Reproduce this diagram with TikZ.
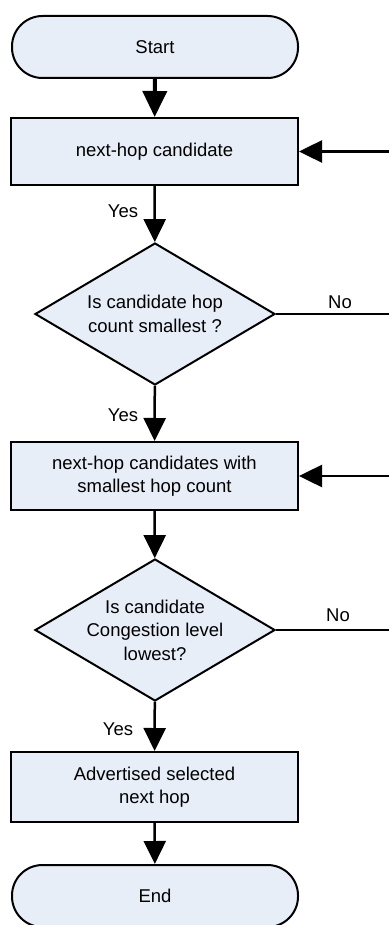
\documentclass[tikz,border=0pt]{standalone}
\usepackage{fontspec}
\setmainfont{Liberation Sans}
\usetikzlibrary{shapes.geometric,arrows.meta}
\definecolor{boxfill}{RGB}{232,238,247}
\begin{document}
\begin{tikzpicture}[x=1pt,y=-1pt,
  base/.style={draw=black,line width=2pt,fill=boxfill,font=\fontsize{18.5}{23.5}\selectfont,align=center,inner sep=0pt},
  term/.style={base,rectangle,rounded corners=30.5pt,minimum width=286pt,minimum height=62pt},
  procbox/.style={base,rectangle,minimum width=287pt},
  decision/.style={base,diamond,minimum width=240pt,minimum height=142pt},
  txt/.style={font=\fontsize{18.5}{23.5}\selectfont,align=center,inner sep=0pt},
  arr/.style={line width=2.5pt,-{Triangle[width=22pt,length=23pt]}},
  bigarr/.style={line width=4pt,-{Triangle[width=24pt,length=26pt]}},
  plain/.style={line width=2pt},
  lbl/.style={font=\fontsize{18.5}{22}\selectfont,inner sep=0pt}]
\useasboundingbox (0,0) rectangle (388,925);
\node[term] (start) at (155,47) {Start};
\node[procbox,minimum height=67pt] (b1) at (154.5,151.5) {next-hop candidate};
\node[decision] (d1) at (155,314) {};
\node[txt] (d1t) at (155,314) {Is candidate hop\\count smallest ?};
\node[procbox,minimum height=68pt] (b2) at (154.5,476) {next-hop candidates with\\smallest hop count};
\node[decision] (d2) at (155,630) {};
\node[txt] (d2t) at (155,630) {Is candidate\\Congestion level\\lowest?};
\node[procbox,minimum height=70pt] (b3) at (154.5,787) {Advertised selected\\next hop};
\node[term] (end) at (155,896) {End};
\coordinate (r1) at (390,151.5);
\coordinate (r2) at (390,476);
\coordinate (n1) at (390,314);
\coordinate (n2) at (390,630);
\draw[bigarr] (start) -- (b1);
\draw[arr] (b1) -- (d1);
\draw[arr] (d1) -- (b2);
\draw[arr] (b2) -- (d2);
\draw[arr] (d2) -- (b3);
\draw[arr] (b3) -- (end);
\draw[arr] (r1) -- (b1);
\draw[arr] (r2) -- (b2);
\draw[plain] (d1.east) -- (n1);
\draw[plain] (d2.east) -- (n2);
\node[lbl] (y1) at (123,211) {Yes};
\node[lbl] (y2) at (123,415) {Yes};
\node[lbl] (y3) at (118,729) {Yes};
\node[lbl] (no1) at (340,302) {No};
\node[lbl] (no2) at (338,615) {No};
\end{tikzpicture}
\end{document}
